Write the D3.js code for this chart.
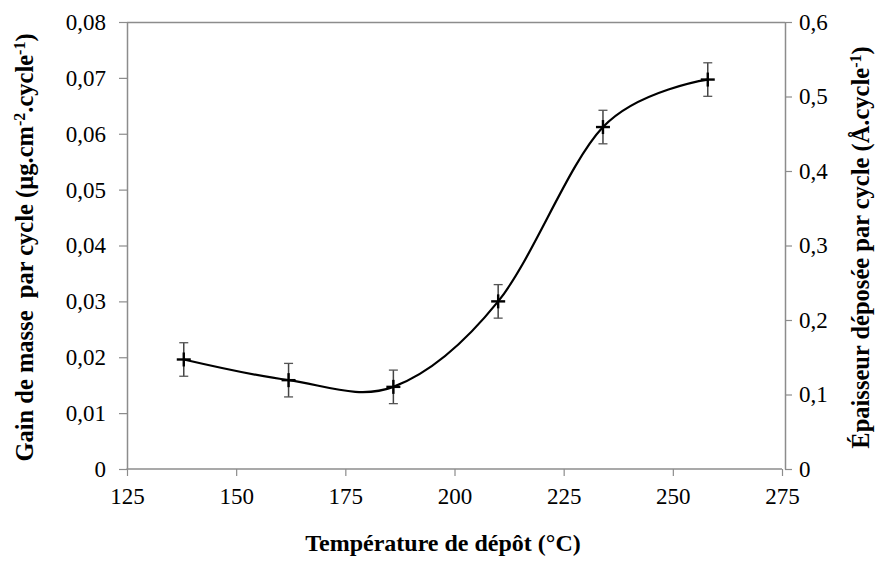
<!DOCTYPE html>
<html>
<head>
<meta charset="utf-8">
<script src="https://cdn.jsdelivr.net/npm/d3@7"></script>
<style>
  body { margin: 0; background: #fff; }
  svg { display: block; }
</style>
</head>
<body>
<svg id="chart" width="886" height="565" font-family="Liberation Serif"></svg>
<script>
// ---- data ----
const temperatures = [138, 162, 186, 210, 234, 258];
const massGain = [0.0196, 0.0159, 0.0147, 0.0300, 0.0612, 0.0697];
const massError = [0.003, 0.003, 0.003, 0.003, 0.003, 0.003];
const xTicks = [125, 150, 175, 200, 225, 250, 275];
const yLeftTicks = [0, 0.01, 0.02, 0.03, 0.04, 0.05, 0.06, 0.07, 0.08];
const yRightTicks = [0, 0.1, 0.2, 0.3, 0.4, 0.5, 0.6];
const xTitle = "Température de dépôt (°C)";

// ---- layout ----
const FONT = "Liberation Serif";
const svg = d3.select("#chart");
const mLeft = 127, mRight = 782, rightAxisX = 785, mTop = 22, mBottom = 469;

const x = d3.scaleLinear().domain([125, 275]).range([mLeft, mRight]);
const y = d3.scaleLinear().domain([0, 0.08]).range([mBottom, mTop]);
const y2 = d3.scaleLinear().domain([0, 0.6]).range([mBottom, mTop]);

const axisColor = "#8c8c8c";
const fmt = d => d === 0 ? "0" : d3.format(".2f")(d).replace(".", ",");
const fmt1 = d => d === 0 ? "0" : d3.format(".1f")(d).replace(".", ",");

// top border
svg.append("line").attr("x1", mLeft).attr("x2", rightAxisX)
  .attr("y1", mTop + 0.5).attr("y2", mTop + 0.5)
  .attr("stroke", axisColor).attr("stroke-width", 1.5);

// left axis
const gL = svg.append("g").attr("transform", `translate(${mLeft},0)`)
  .call(d3.axisLeft(y).tickValues(yLeftTicks).tickFormat(fmt).tickSizeInner(8).tickSizeOuter(0).tickPadding(13));
// right axis
const gR = svg.append("g").attr("transform", `translate(${rightAxisX},0)`)
  .call(d3.axisRight(y2).tickValues(yRightTicks).tickFormat(fmt1).tickSizeInner(7).tickSizeOuter(0).tickPadding(7));
// bottom axis
const gB = svg.append("g").attr("transform", `translate(0,${mBottom})`)
  .call(d3.axisBottom(x).tickValues(xTicks).tickFormat(d3.format("d")).tickSizeInner(7).tickSizeOuter(0).tickPadding(12));

[gL, gR, gB].forEach(g => {
  g.attr("font-family", FONT).attr("font-size", 23);
  g.selectAll("path.domain").attr("stroke", axisColor).attr("stroke-width", 1.5);
  g.selectAll(".tick line").attr("stroke", axisColor).attr("stroke-width", 1.2);
  g.selectAll(".tick text").attr("font-family", FONT).attr("font-size", 23).attr("fill", "#000");
});
gB.select("path.domain").attr("d", `M${mLeft - 0.5},0H${mRight}`);

// ---- smoothed line ----
const pts = temperatures.map((t, i) => [x(t), y(massGain[i])]);
svg.append("path")
  .attr("d", d3.line().curve(d3.curveCardinal.tension(0))(pts))
  .attr("fill", "none").attr("stroke", "#000").attr("stroke-width", 2.2);

// ---- error bars ----
const eb = svg.append("g");
temperatures.forEach((t, i) => {
  const cx = x(t), y1 = y(massGain[i] + massError[i]), y0 = y(massGain[i] - massError[i]);
  eb.append("line").attr("x1", cx).attr("x2", cx).attr("y1", y1).attr("y2", y0)
    .attr("stroke", "#444").attr("stroke-width", 1.5);
  [y1, y0].forEach(yy => eb.append("line").attr("x1", cx - 4.5).attr("x2", cx + 4.5)
    .attr("y1", yy).attr("y2", yy).attr("stroke", "#555").attr("stroke-width", 1.3));
});

// ---- markers (+) ----
const mk = svg.append("g");
pts.forEach(([px, py]) => {
  mk.append("line").attr("x1", px - 7).attr("x2", px + 7).attr("y1", py).attr("y2", py)
    .attr("stroke", "#000").attr("stroke-width", 2.4);
  mk.append("line").attr("x1", px).attr("x2", px).attr("y1", py - 7).attr("y2", py + 7)
    .attr("stroke", "#000").attr("stroke-width", 2.4);
});

// ---- titles ----
svg.append("text").attr("x", 443).attr("y", 551)
  .attr("text-anchor", "middle").attr("font-family", FONT).attr("font-size", 24).attr("font-weight", "bold")
  .text(xTitle);

const lt = svg.append("text").attr("transform", `translate(33,${(mTop + mBottom) / 2 + 2}) rotate(-90)`)
  .attr("text-anchor", "middle").attr("font-family", FONT).attr("font-size", 24.5).attr("font-weight", "bold")
  .style("white-space", "pre");
lt.append("tspan").text("Gain de masse  par cycle (µg.cm");
lt.append("tspan").attr("baseline-shift", "super").attr("font-size", 16).text("-2");
lt.append("tspan").text(".cycle");
lt.append("tspan").attr("baseline-shift", "super").attr("font-size", 16).text("-1");
lt.append("tspan").text(")");

const rt = svg.append("text").attr("transform", `translate(869,${(mTop + mBottom) / 2 + 2}) rotate(-90)`)
  .attr("text-anchor", "middle").attr("font-family", FONT).attr("font-size", 24.5).attr("font-weight", "bold");
rt.append("tspan").text("Épaisseur déposée par cycle (Å.cycle");
rt.append("tspan").attr("baseline-shift", "super").attr("font-size", 16).text("-1");
rt.append("tspan").text(")");
</script>
</body>
</html>
